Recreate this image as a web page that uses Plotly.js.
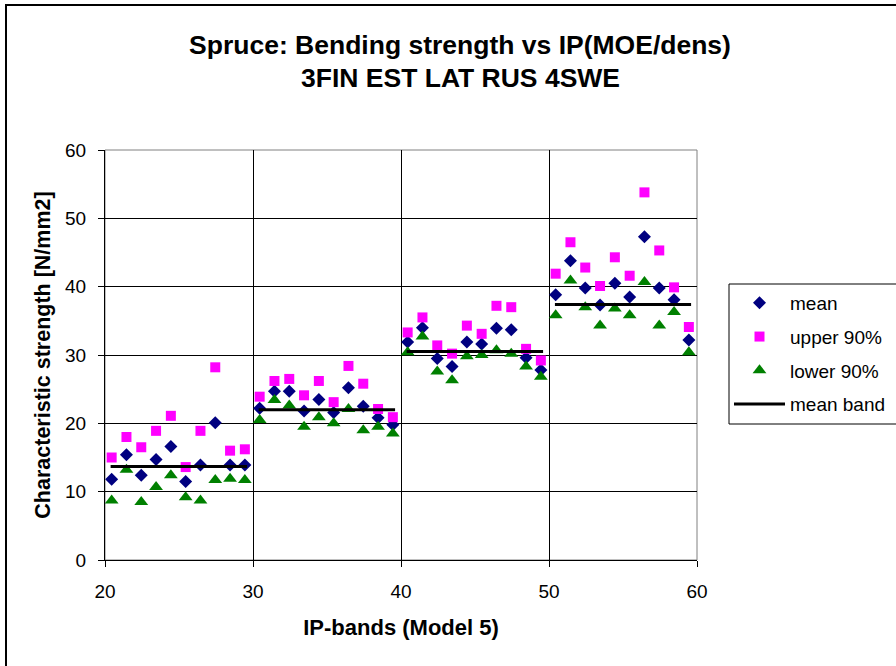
<!DOCTYPE html>
<html>
<head>
<meta charset="utf-8">
<script src="https://cdn.plot.ly/plotly-3.0.1.min.js"></script>
<style>
html,body{margin:0;padding:0;background:#fff;}
#chart{width:896px;height:666px;}
</style>
</head>
<body>
<div id="chart"></div>
<script>
// IP-band positions (x) for each of the 40 bands
const ipX = [20.45,21.45,22.45,23.45,24.45,25.45,26.45,27.45,28.45,29.45,
             30.45,31.45,32.45,33.45,34.45,35.45,36.45,37.45,38.45,39.45,
             40.45,41.45,42.45,43.45,44.45,45.45,46.45,47.45,48.45,49.45,
             50.45,51.45,52.45,53.45,54.45,55.45,56.45,57.45,58.45,59.45];

const meanVals = [11.8,15.4,12.4,14.7,16.6,11.5,13.9,20.1,13.9,13.9,
                  22.2,24.7,24.7,21.8,23.5,21.6,25.2,22.5,20.8,19.8,
                  31.9,34.0,29.5,28.3,31.9,31.6,33.9,33.7,29.6,27.8,
                  38.8,43.8,39.8,37.3,40.5,38.5,47.3,39.8,38.1,32.2];

const upperVals = [15.0,18.0,16.5,18.9,21.1,13.6,18.9,28.2,16.0,16.2,
                   23.9,26.2,26.5,24.1,26.2,23.1,28.4,25.8,22.1,20.9,
                   33.3,35.5,31.4,30.2,34.3,33.1,37.2,37.0,30.9,29.2,
                   41.9,46.5,42.8,40.1,44.3,41.6,53.8,45.3,39.9,34.1];

const lowerVals = [8.7,13.2,8.5,10.7,12.4,9.2,8.7,11.7,11.9,11.7,
                   20.5,23.4,22.6,19.5,20.9,20.0,22.1,19.0,19.5,18.5,
                   30.4,32.7,27.6,26.3,29.8,30.0,30.7,30.2,28.3,26.8,
                   35.8,40.9,37.0,34.3,36.8,35.8,40.7,34.3,36.3,30.4];

// Mean band segments
const bandStart = [20.38,30.38,40.38,50.4];
const bandEnd   = [29.6,39.6,49.6,59.6];
const bandMean  = [13.7,22.0,30.5,37.4];

const xTicks = [20,30,40,50,60];
const yTicks = [0,10,20,30,40,50,60];

const bandX = [], bandY = [];
for (let i = 0; i < bandMean.length; i++) {
  bandX.push(bandStart[i], bandEnd[i], null);
  bandY.push(bandMean[i], bandMean[i], null);
}

const FONT = '"Liberation Sans", Arial, sans-serif';

const traces = [
  {x: ipX, y: meanVals, name: 'mean', type: 'scatter', mode: 'markers', legendgroup: 'a',
   marker: {symbol: 'diamond', size: 10, color: '#000080'}},
  {x: ipX, y: upperVals, name: 'upper 90%', type: 'scatter', mode: 'markers', legendgroup: 'b',
   marker: {symbol: 'square', size: 10, color: '#FF00FF'}},
  {x: ipX, y: lowerVals, name: 'lower 90%', type: 'scatter', mode: 'markers', legendgroup: 'c',
   marker: {symbol: 'triangle-up', size: 12, color: '#008000'}},
  {x: bandX, y: bandY, name: 'mean band', type: 'scatter', mode: 'lines', legendgroup: 'd',
   line: {color: '#000000', width: 3}, connectgaps: false}
];

const L = 105, PW = 592, PB = 560, PH = 410;

const layout = {
  width: 896, height: 666,
  margin: {l: L, r: 199, t: 150, b: 106, autoexpand: false},
  paper_bgcolor: '#ffffff', plot_bgcolor: '#ffffff',
  font: {family: FONT, color: '#000', size: 19},
  showlegend: true,
  title: {
    text: '<b>Spruce: Bending strength vs IP(MOE/dens)</b>',
    font: {family: FONT, size: 26.5, color: '#000'},
    x: 460/896, xref: 'container', xanchor: 'center',
    y: 1 - 45/666, yref: 'container', yanchor: 'middle'
  },
  annotations: [{
    text: '<b>3FIN EST LAT RUS 4SWE</b>',
    xref: 'paper', yref: 'paper',
    x: (460-L)/PW, y: (PB-78)/PH,
    xanchor: 'center', yanchor: 'middle', showarrow: false,
    font: {family: FONT, size: 26.5, color: '#000'}
  }],
  xaxis: {
    range: [20, 60], tickvals: xTicks, ticktext: xTicks.map(String),
    showgrid: true, gridcolor: '#000', gridwidth: 1,
    showline: true, linecolor: '#000', linewidth: 1, mirror: false,
    ticks: 'outside', ticklen: 6, tickcolor: '#000', ticklabelstandoff: 8,
    zeroline: false, fixedrange: true, automargin: false,
    tickfont: {size: 19},
    title: {text: '<b>IP-bands (Model 5)</b>', font: {size: 22}, standoff: 18}
  },
  yaxis: {
    range: [0, 60], tickvals: yTicks, ticktext: yTicks.map(String),
    showgrid: true, gridcolor: '#000', gridwidth: 1,
    showline: true, linecolor: '#000', linewidth: 1,
    ticks: 'outside', ticklen: 6, tickcolor: '#000', ticklabelstandoff: 8,
    zeroline: false, fixedrange: true, automargin: false,
    tickfont: {size: 19},
    title: {text: '<b>Characteristic strength [N/mm2]</b>', font: {size: 21.5}, standoff: 8}
  },
  legend: {
    x: (729-L)/PW, y: (PB-284)/PH, xanchor: 'left', yanchor: 'top',
    borderwidth: 0, bgcolor: 'rgba(0,0,0,0)',
    font: {family: FONT, size: 19, color: '#000'},
    tracegroupgap: 6, itemwidth: 51
  },
  shapes: [
    // plot-area border
    {type: 'rect', xref: 'paper', yref: 'paper', x0: 0, x1: 1, y0: 0, y1: 1,
     line: {color: '#808080', width: 1}, layer: 'below'},
    // legend box (extends past the right edge)
    {type: 'rect', xref: 'paper', yref: 'paper',
     x0: (729-L)/PW, x1: 1.5, y0: (PB-424)/PH, y1: (PB-284)/PH,
     line: {color: '#000', width: 1}},
    // outer chart frame
    {type: 'rect', xref: 'paper', yref: 'paper',
     x0: (6-L)/PW, x1: 2, y0: -1, y1: (PB-5)/PH,
     line: {color: '#000', width: 2}}
  ]
};

Plotly.newPlot('chart', traces, layout, {displayModeBar: false, staticPlot: true});
</script>
</body>
</html>
